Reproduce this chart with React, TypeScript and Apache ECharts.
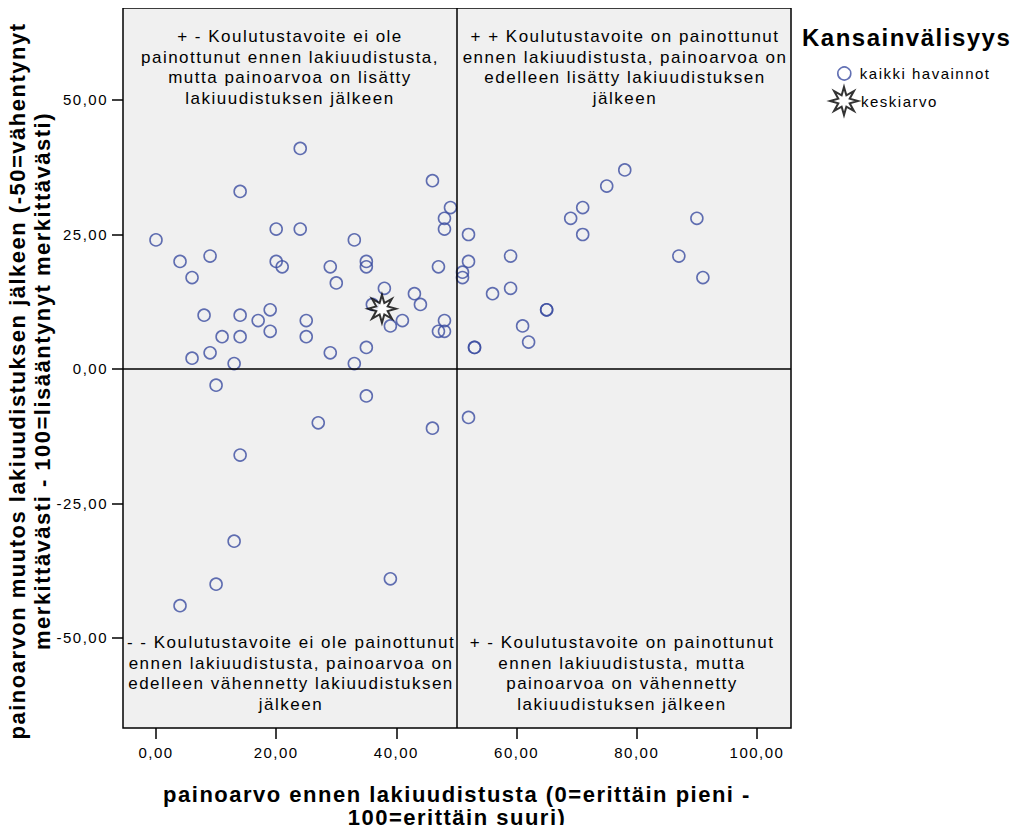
import React, { useEffect, useRef } from "react";
import * as echarts from "echarts";

const xTicks = [0, 20, 40, 60, 80, 100];
const yTicks = [-50, -25, 0, 25, 50];

// kaikki havainnot: [painoarvo ennen, muutos]
const observations: [number, number][] = [
  [24, 41], [14, 33], [20, 26], [24, 26], [0, 24], [4, 20], [9, 21], [6, 17],
  [20, 20], [21, 19], [8, 10], [14, 10], [17, 9], [19, 11], [19, 7], [25, 9],
  [25, 6], [11, 6], [14, 6], [9, 3], [6, 2], [13, 1],
  [46, 35], [49, 30], [48, 28], [48, 26], [33, 24], [35, 20], [35, 19], [29, 19],
  [30, 16], [47, 19], [38, 15], [43, 14], [44, 12], [36, 12], [39, 8], [41, 9],
  [48, 9], [47, 7], [48, 7], [29, 3], [35, 4], [33, 1],
  [52, 25], [52, 20], [51, 18], [51, 17], [56, 14], [53, 4], [53, 4], [78, 37],
  [75, 34], [71, 30], [69, 28], [71, 25], [90, 28], [87, 21], [91, 17], [59, 21],
  [59, 15], [65, 11], [65, 11], [61, 8], [62, 5],
  [10, -3], [35, -5], [27, -10], [46, -11], [52, -9], [14, -16], [13, -32],
  [10, -40], [39, -39], [4, -44],
];

const mean: [number, number][] = [[37.6, 11.2]];

const quadrantTexts = [
  "+ - Koulutustavoite ei ole\npainottunut ennen lakiuudistusta,\nmutta painoarvoa on lisätty\nlakiuudistuksen jälkeen",
  "+ + Koulutustavoite on painottunut\nennen lakiuudistusta, painoarvoa on\nedelleen lisätty lakiuudistuksen\njälkeen",
  "- - Koulutustavoite ei ole painottunut\nennen lakiuudistusta, painoarvoa on\nedelleen vähennetty lakiuudistuksen\njälkeen",
  "+ - Koulutustavoite on painottunut\nennen lakiuudistusta, mutta\npainoarvoa on vähennetty\nlakiuudistuksen jälkeen",
];

function starPath(): string {
  const pts: string[] = [];
  for (let i = 0; i < 16; i++) {
    const a = -Math.PI / 2 + (i * Math.PI) / 8;
    const r = i % 2 === 0 ? 50 : 22;
    const x = 50 + r * Math.cos(a);
    const y = 50 + r * Math.sin(a);
    pts.push(`${i === 0 ? "M" : "L"}${x.toFixed(2)} ${y.toFixed(2)}`);
  }
  return "path://" + pts.join(" ") + " Z";
}

const fmt = (v: number) => v.toFixed(2).replace(".", ",");

export default function App() {
  const ref = useRef<HTMLDivElement>(null);
  useEffect(() => {
    if (!ref.current) return;
    const chart = echarts.init(ref.current, undefined, { renderer: "svg" });
    const star = starPath();
    const font = "Liberation Sans, Arial, sans-serif";
    const qStyle = { fontFamily: font, fontSize: 17, lineHeight: 20.5, fill: "#000", align: "center" as const };
    chart.setOption({
      animation: false,
      backgroundColor: "#fff",
      textStyle: { fontFamily: font },
      title: {
        text: "Kansainvälisyys",
        left: 797,
        top: 20,
        textStyle: { fontFamily: font, fontSize: 24, fontWeight: "bold", color: "#000" },
      },
      legend: [
        {
          data: [{ name: "kaikki havainnot", icon: "circle" }],
          left: 837,
          top: 66,
          padding: 0,
          itemWidth: 13,
          itemHeight: 13,
          itemStyle: { color: "rgba(0,0,0,0)", borderColor: "#3b4ca0", borderWidth: 1.6 },
          textStyle: { fontFamily: font, fontSize: 15, color: "#000", padding: [0, 0, 0, 4] },
        },
        {
          data: [{ name: "keskiarvo", icon: star }],
          left: 829,
          top: 86,
          padding: 0,
          itemWidth: 28,
          itemHeight: 28,
          textStyle: { fontFamily: font, fontSize: 15, color: "#000", padding: [0, 0, 0, -2] },
        },
      ],
      grid: {
        left: 123,
        top: 8,
        width: 668,
        height: 720,
        outerBoundsMode: "none",
        containLabel: false,
        show: true,
        backgroundColor: "#f0f0f0",
        borderColor: "#000",
        borderWidth: 1.5,
      },
      xAxis: {
        type: "value",
        min: -5.49,
        max: 105.66,
        splitLine: { show: false },
        axisLine: { show: false, onZero: false },
        axisTick: { show: true, length: 11, customValues: xTicks, lineStyle: { color: "#000", width: 1.5 } },
        axisLabel: {
          customValues: xTicks,
          formatter: (v: number) => fmt(v),
          fontFamily: font,
          fontSize: 15,
          color: "#000",
          margin: 17,
        },
        name: "painoarvo ennen lakiuudistusta (0=erittäin pieni -\n100=erittäin suuri)",
        nameLocation: "middle",
        nameGap: 55,
        nameTextStyle: { fontFamily: font, fontSize: 22, fontWeight: "bold", color: "#000", lineHeight: 23 },
      },
      yAxis: {
        type: "value",
        min: -66.73,
        max: 67.1,
        splitLine: { show: false },
        axisLine: { show: false, onZero: false },
        axisTick: { show: true, length: 11, customValues: yTicks, lineStyle: { color: "#000", width: 1.5 } },
        axisLabel: {
          customValues: yTicks,
          formatter: (v: number) => fmt(v),
          fontFamily: font,
          fontSize: 15,
          color: "#000",
          margin: 15,
        },
        name: "painoarvon muutos lakiuudistuksen jälkeen (-50=vähentynyt\nmerkittävästi - 100=lisääntynyt merkittävästi)",
        nameLocation: "middle",
        nameRotate: 90,
        nameGap: 62,
        nameTextStyle: { fontFamily: font, fontSize: 22, fontWeight: "bold", color: "#000", lineHeight: 25, padding: [0, 26, 0, 0] },
      },
      series: [
        {
          name: "kaikki havainnot",
          type: "scatter",
          symbol: "circle",
          symbolSize: 12,
          data: observations,
          itemStyle: { color: "rgba(0,0,0,0)", borderColor: "#3b4ca0", borderWidth: 1.6 },
          markLine: {
            silent: true,
            symbol: "none",
            label: { show: false },
            lineStyle: { color: "#000", width: 1.5, type: "solid" },
            data: [{ xAxis: 50 }, { yAxis: 0 }],
          },
          z: 3,
        },
        {
          name: "keskiarvo",
          type: "scatter",
          symbol: star,
          symbolSize: 28,
          data: mean,
          itemStyle: { color: "#fff", borderColor: "#000", borderWidth: 2 },
          z: 4,
        },
      ],
      graphic: [
        { type: "text", x: 290, y: 26.5, style: { ...qStyle, text: quadrantTexts[0] } },
        { type: "text", x: 625, y: 26.5, style: { ...qStyle, text: quadrantTexts[1] } },
        { type: "text", x: 291, y: 632.5, style: { ...qStyle, text: quadrantTexts[2] } },
        { type: "text", x: 622, y: 632.5, style: { ...qStyle, text: quadrantTexts[3] } },
      ],
    });
    return () => chart.dispose();
  }, []);
  return (
    <>
      <style>{`.chart-box svg text { letter-spacing: 1.5px; }`}</style>
      <div className="chart-box" ref={ref} style={{ width: 1022, height: 833, margin: -8 }} />
    </>
  );
}
